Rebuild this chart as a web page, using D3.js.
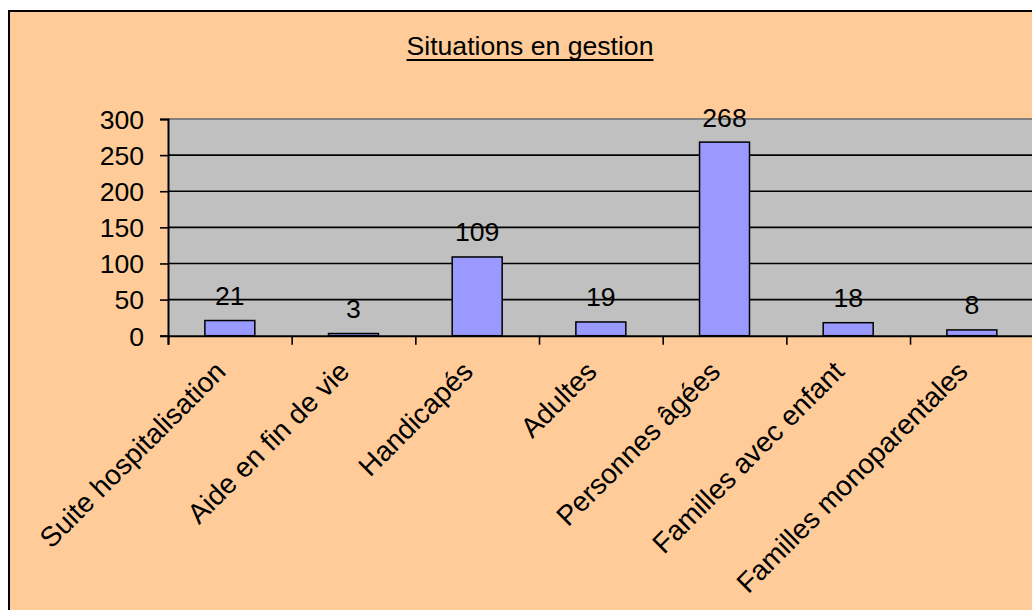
<!DOCTYPE html>
<html><head><meta charset="utf-8">
<script src="https://cdn.jsdelivr.net/npm/d3@7"></script>
<style>
html,body{margin:0;padding:0;background:#fff;}
svg{display:block;font-family:"Liberation Sans",Arial,sans-serif;}
</style></head>
<body>
<svg id="c" width="1032" height="610"></svg>
<script>
const title = "Situations en gestion";
const categories = ["Suite hospitalisation","Aide en fin de vie","Handicapés","Adultes","Personnes âgées","Familles avec enfant","Familles monoparentales"];
const values = [21,3,109,19,268,18,8];
const yTicks = [0,50,100,150,200,250,300];

const svg = d3.select("#c");
const plot = {left:168, top:119, right:1033.7, bottom:335.7};
const fontSize = 26.6;
const catFontSize = 28;

// chart background + frame
svg.append("rect").attr("x",9).attr("y",11).attr("width",1100).attr("height",700)
  .attr("fill","#FFCC99").attr("stroke","#000").attr("stroke-width",2);

const x = d3.scaleBand().domain(categories).range([plot.left, plot.right]).paddingInner(0).paddingOuter(0);
const y = d3.scaleLinear().domain([0,300]).range([plot.bottom, plot.top]);

// plot area
svg.append("rect").attr("x",plot.left).attr("y",plot.top)
  .attr("width",plot.right-plot.left).attr("height",plot.bottom-plot.top)
  .attr("fill","#C0C0C0");
svg.append("line").attr("x1",plot.left).attr("x2",plot.right).attr("y1",plot.top).attr("y2",plot.top)
  .attr("stroke","#808080").attr("stroke-width",2);

// gridlines
svg.append("g").selectAll("line").data(yTicks.filter(t=>t>0 && t<300)).join("line")
  .attr("x1",plot.left).attr("x2",plot.right)
  .attr("y1",d=>y(d)).attr("y2",d=>y(d))
  .attr("stroke","#000").attr("stroke-width",1.6);

// y axis
const yAxis = svg.append("g").attr("transform",`translate(${plot.left},0)`)
  .call(d3.axisLeft(y).tickValues(yTicks).tickSize(8).tickPadding(16));
yAxis.select(".domain").attr("stroke","#000").attr("stroke-width",2);
yAxis.selectAll(".tick line").attr("stroke","#000").attr("stroke-width",1.6);
yAxis.selectAll(".tick text").attr("font-size",fontSize).attr("font-family","Liberation Sans, Arial, sans-serif")
  .attr("fill","#000").attr("dy","0.35em");

// bars
const bw = x.bandwidth()*0.404;
svg.append("g").selectAll("rect").data(values).join("rect")
  .attr("x",(d,i)=>x(categories[i])+x.bandwidth()/2-bw/2)
  .attr("y",d=>y(d))
  .attr("width",bw)
  .attr("height",d=>y(0)-y(d))
  .attr("fill","#9999FF").attr("stroke","#000").attr("stroke-width",1.5);

// x axis
const xAxis = svg.append("g").attr("transform",`translate(0,${plot.bottom})`)
  .call(d3.axisBottom(d3.scaleLinear().domain([0,7]).range([plot.left,plot.right]))
    .tickValues(d3.range(0,8)).tickSize(9).tickFormat(""));
xAxis.select(".domain").attr("stroke","#000").attr("stroke-width",2);
xAxis.selectAll(".tick line").attr("stroke","#000").attr("stroke-width",1.6);

// value labels
svg.append("g").selectAll("text").data(values).join("text")
  .attr("x",(d,i)=>x(categories[i])+x.bandwidth()/2)
  .attr("y",d=>y(d)-15.5)
  .attr("text-anchor","middle").attr("font-size",fontSize).attr("fill","#000")
  .text(d=>d);

// category labels
svg.append("g").selectAll("text").data(categories).join("text")
  .attr("transform",d=>`translate(${x(d)+x.bandwidth()/2-2.5},373.3) rotate(-45)`)
  .attr("text-anchor","end").attr("font-size",catFontSize).attr("fill","#000")
  .text(d=>d);

// title
const t = svg.append("text").attr("x",530).attr("y",55).attr("text-anchor","middle")
  .attr("font-size",fontSize).attr("fill","#000").text(title);
const bb = t.node().getBBox();
svg.append("line").attr("x1",bb.x).attr("x2",bb.x+bb.width).attr("y1",60).attr("y2",60)
  .attr("stroke","#000").attr("stroke-width",2);
</script>
</body></html>
